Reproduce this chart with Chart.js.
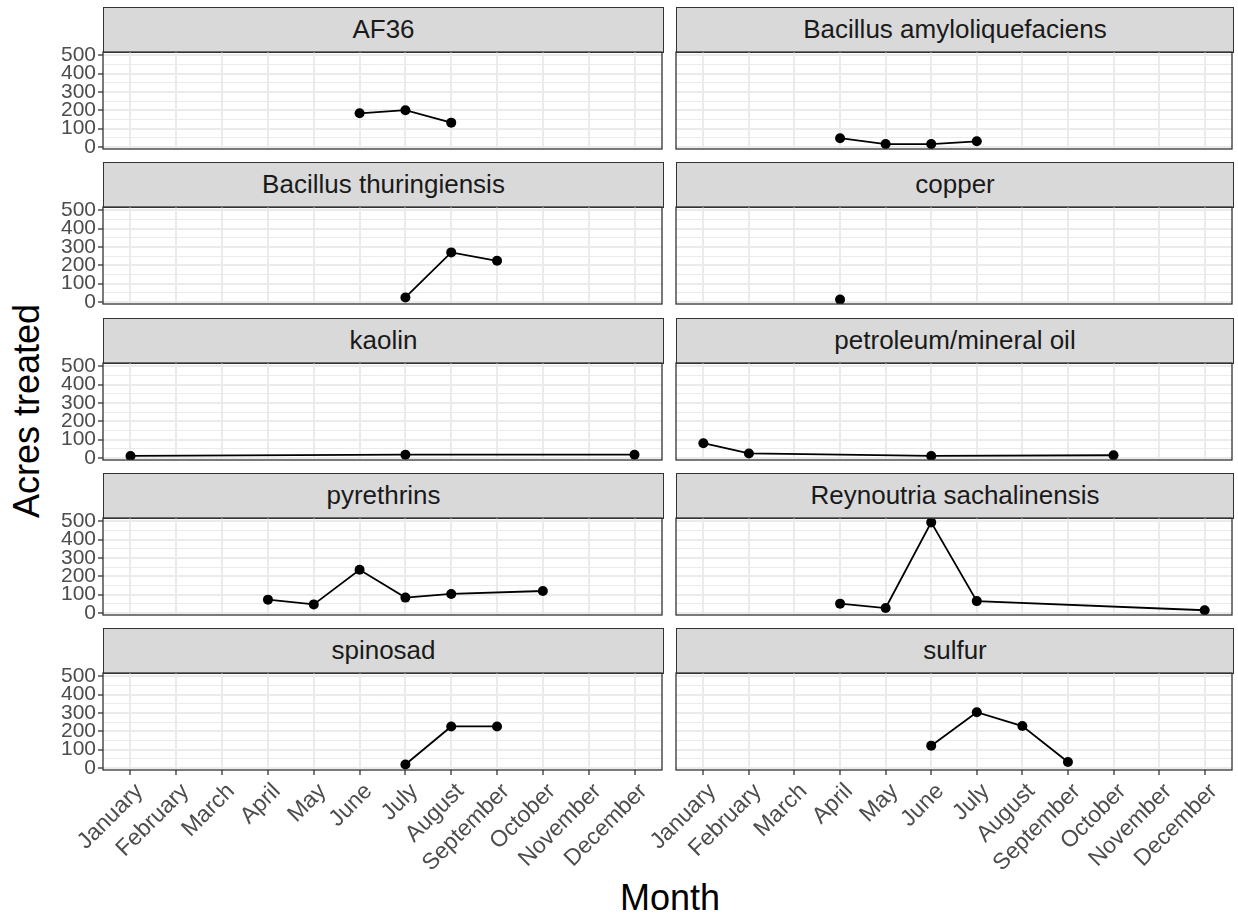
<!DOCTYPE html>
<html>
<head>
<meta charset="utf-8">
<script src="https://cdn.jsdelivr.net/npm/chart.js@4.4.1/dist/chart.umd.min.js"></script>
<style>
  body { margin: 0; background: #fff; width: 1238px; height: 915px; position: relative; overflow: hidden;
         font-family: "Liberation Sans", Arial, sans-serif; }
  .strip { position: absolute; box-sizing: border-box; background: #d9d9d9; border: 1.3px solid #333;
           color: #1a1a1a; font-size: 26px; text-align: center; line-height: 43px; white-space: nowrap; }
  canvas { position: absolute; }
  .axis-title { position: absolute; font-size: 36px; line-height: 1; color: #000; white-space: nowrap; }
</style>
</head>
<body>
<div class="axis-title" id="ytitle" style="left:-123px; top:393px; width:300px; text-align:center; transform:rotate(-90deg);">Acres treated</div>
<div class="axis-title" id="xtitle" style="left:570px; top:880px; width:200px; text-align:center;">Month</div>
<script>
// Acres treated per month, one facet per active ingredient
const months = ['January', 'February', 'March', 'April', 'May', 'June', 'July',
                'August', 'September', 'October', 'November', 'December'];
const panelTitles = ['AF36', 'Bacillus amyloliquefaciens', 'Bacillus thuringiensis', 'copper',
                     'kaolin', 'petroleum/mineral oil', 'pyrethrins', 'Reynoutria sachalinensis',
                     'spinosad', 'sulfur'];

const af36        = [null, null, null, null, null, 183, 200, 132, null, null, null, null];
const bacAmylo    = [null, null, null, 47, 15, 15, 30, null, null, null, null, null];
const bacThur     = [null, null, null, null, null, null, 24, 270, 224, null, null, null];
const copper      = [null, null, null, 12, null, null, null, null, null, null, null, null];
const kaolin      = [10, null, null, null, null, null, 17, null, null, null, null, 17];
const petroleum   = [80, 24, null, null, null, 10, null, null, null, 14, null, null];
const pyrethrins  = [null, null, null, 72, 46, 235, 83, 103, null, 119, null, null];
const reynoutria  = [null, null, null, 50, 26, 494, 64, null, null, null, null, 14];
const spinosad    = [null, null, null, null, null, null, 18, 226, 226, null, null, null];
const sulfur      = [null, null, null, null, null, 121, 304, 228, 32, null, null, null];

const panelValues = [af36, bacAmylo, bacThur, copper, kaolin, petroleum,
                     pyrethrins, reynoutria, spinosad, sulfur];

const yMajor = [0, 100, 200, 300, 400, 500];
const yMinor = [50, 150, 250, 350, 450];
const yMin = -12;
const yMax = 518;

// draws the dark frame around each panel (ggplot panel.border)
const panelBorder = {
    id: 'panelBorder',
    afterDraw(chart) {
        const a = chart.chartArea;
        const c = chart.ctx;
        c.save();
        c.strokeStyle = '#333333';
        c.lineWidth = 1.3;
        c.strokeRect(a.left, a.top, a.right - a.left, a.bottom - a.top);
        c.restore();
    }
};

function makePanel(i) {
    const row = Math.floor(i / 2);
    const col = i % 2;
    const plotLeft = col ? 676 : 103;
    const plotRight = col ? 1234 : 664;
    const plotTop = Math.round(52 + row * 155.3);
    const plotH = 97;
    const bottomRow = row === 4;
    const padTop = 12;
    const padLeft = col ? 60 : 0;
    const labelH = bottomRow ? 112 : 12;

    // strip header
    const strip = document.createElement('div');
    strip.className = 'strip';
    strip.style.left = plotLeft + 'px';
    strip.style.top = (plotTop - 45) + 'px';
    strip.style.width = (plotRight - plotLeft) + 'px';
    strip.style.height = '46px';
    strip.textContent = panelTitles[i];
    document.body.appendChild(strip);

    const left = col ? plotLeft - padLeft : 0;
    const top = plotTop - padTop;
    const canvas = document.createElement('canvas');
    canvas.width = plotRight + 3 - left;
    canvas.height = plotH + padTop + labelH;
    canvas.style.left = left + 'px';
    canvas.style.top = top + 'px';
    document.body.appendChild(canvas);

    const points = panelValues[i]
        .map((v, m) => ({ x: m, y: v }))
        .filter(p => p.y !== null);

    new Chart(canvas, {
        type: 'line',
        data: {
            datasets: [{
                data: points,
                borderColor: '#000000',
                borderWidth: 1.8,
                pointRadius: 5,
                pointBackgroundColor: '#000000',
                pointBorderWidth: 0,
                spanGaps: true,
                tension: 0
            }]
        },
        options: {
            responsive: false,
            animation: false,
            devicePixelRatio: 1,
            layout: { padding: { top: padTop, right: 3, left: padLeft, bottom: 0 } },
            plugins: { legend: { display: false }, tooltip: { enabled: false } },
            scales: {
                x: {
                    type: 'linear',
                    min: -0.6,
                    max: 11.6,
                    afterBuildTicks: s => { s.ticks = months.map((m, k) => ({ value: k })); },
                    afterFit: s => {
                        s.height = labelH;
                        s.paddingLeft = 0;
                        s.paddingRight = 0;
                    },
                    border: { display: false },
                    grid: {
                        color: '#ebebeb',
                        lineWidth: 2,
                        drawTicks: bottomRow,
                        tickLength: 5,
                        tickColor: '#333333',
                        tickWidth: 1.3
                    },
                    ticks: {
                        display: bottomRow,
                        autoSkip: false,
                        minRotation: 45,
                        maxRotation: 45,
                        padding: 3,
                        labelOffset: 9,
                        color: '#4d4d4d',
                        font: { family: '"Liberation Sans", Arial, sans-serif', size: 23 },
                        callback: v => months[v]
                    }
                },
                y: {
                    min: yMin,
                    max: yMax,
                    afterBuildTicks: s => {
                        s.ticks = yMajor.concat(yMinor).sort((a, b) => a - b).map(v => ({ value: v }));
                    },
                    afterFit: s => {
                        s.width = col ? 0 : plotLeft;
                        s.paddingTop = 0;
                        s.paddingBottom = 0;
                    },
                    border: { display: false },
                    grid: {
                        color: '#ebebeb',
                        lineWidth: ctx => (ctx.tick && ctx.tick.value % 100 === 0 ? 2 : 1),
                        drawTicks: !col,
                        tickLength: 5,
                        tickWidth: 1.3,
                        tickColor: ctx => (ctx.tick && ctx.tick.value % 100 === 0 ? '#333333' : 'rgba(0,0,0,0)')
                    },
                    ticks: {
                        display: !col,
                        autoSkip: false,
                        padding: 2,
                        color: '#4d4d4d',
                        font: { family: '"Liberation Sans", Arial, sans-serif', size: 21 },
                        callback: v => (v % 100 === 0 ? String(v) : '')
                    }
                }
            }
        },
        plugins: [panelBorder]
    });
}

for (let i = 0; i < panelTitles.length; i++) {
    makePanel(i);
}
</script>
</body>
</html>
